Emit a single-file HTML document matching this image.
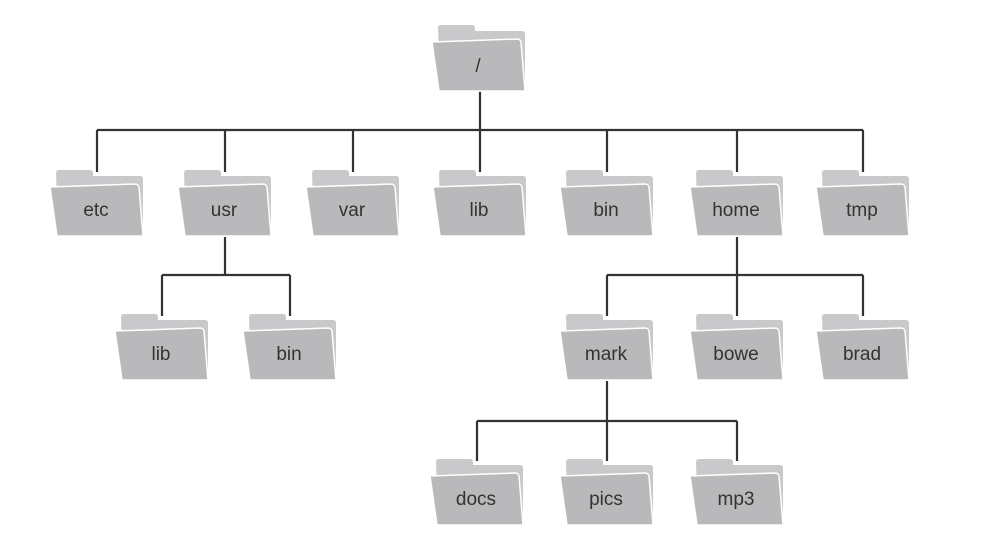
<!DOCTYPE html>
<html><head><style>body{margin:0;background:#fff}svg{display:block}</style></head><body>
<svg width="989" height="547" xmlns="http://www.w3.org/2000/svg">
<defs>
<g id="f">
<path d="M6,3 Q6,0 9,0 L40,0 Q43,0 43,3 L43,6 L90,6 Q93,6 93,9 L93,64 L8,64 Z" fill="#c9c9cb"/>
<path d="M0,17 L85,14 Q88,14 89,17 L93,66 L7,66 Z" fill="#b9b9bb" stroke="#fff" stroke-width="1.5"/>
</g>
</defs>
<g stroke="#333" stroke-width="2.2" fill="none">
<path d="M480,91 V130 M97,130 H863 M97,130 V172 M225,130 V172 M353,130 V172 M480,130 V172 M607,130 V172 M737,130 V172 M863,130 V172"/>
<path d="M225,237 V275 M162,275 H290 M162,275 V316 M290,275 V316"/>
<path d="M737,237 V275 M607,275 H863 M607,275 V316 M737,275 V316 M863,275 V316"/>
<path d="M607,381 V421 M477,421 H737 M477,421 V461 M607,421 V461 M737,421 V461"/>
</g>
<g font-family="Liberation Sans, sans-serif" font-size="19" fill="#333" text-anchor="middle">
<use href="#f" x="432" y="25"/><text x="478" y="72">/</text>
<use href="#f" x="50" y="170"/><text x="96" y="216">etc</text>
<use href="#f" x="178" y="170"/><text x="224" y="216">usr</text>
<use href="#f" x="306" y="170"/><text x="352" y="216">var</text>
<use href="#f" x="433" y="170"/><text x="479" y="216">lib</text>
<use href="#f" x="560" y="170"/><text x="606" y="216">bin</text>
<use href="#f" x="690" y="170"/><text x="736" y="216">home</text>
<use href="#f" x="816" y="170"/><text x="862" y="216">tmp</text>
<use href="#f" x="115" y="314"/><text x="161" y="360">lib</text>
<use href="#f" x="243" y="314"/><text x="289" y="360">bin</text>
<use href="#f" x="560" y="314"/><text x="606" y="360">mark</text>
<use href="#f" x="690" y="314"/><text x="736" y="360">bowe</text>
<use href="#f" x="816" y="314"/><text x="862" y="360">brad</text>
<use href="#f" x="430" y="459"/><text x="476" y="505">docs</text>
<use href="#f" x="560" y="459"/><text x="606" y="505">pics</text>
<use href="#f" x="690" y="459"/><text x="736" y="505">mp3</text>
</g>
</svg>
</body></html>
